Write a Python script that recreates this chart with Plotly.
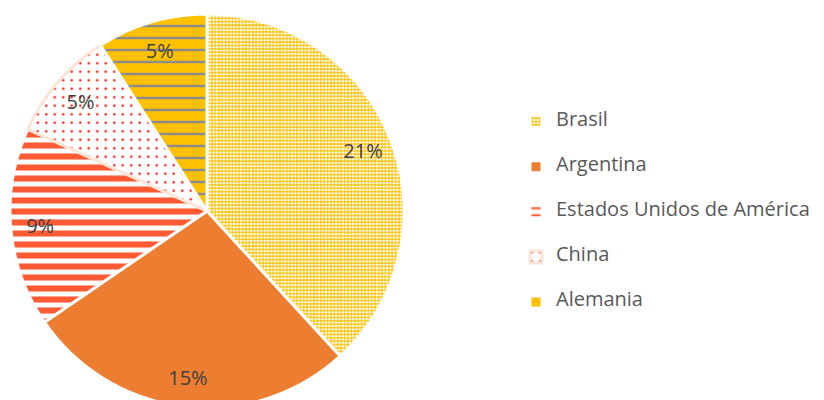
import plotly.graph_objects as go

paises = ["Brasil", "Argentina", "Estados Unidos de América", "China", "Alemania"]
porcentajes = [21, 15, 9, 5, 5]
etiquetas = ["21%", "15%", "9%", "5%", "5%"]

colores_fondo = ["#FFC000", "#ED7D31", "white", "white", "#FFC000"]
colores_patron = ["white", "#ED7D31", "#FF5A33", "#FF0000", "#8C8C8C"]
formas = [".", "", "-", ".", "-"]
tamanos = [3.4, 8, 11, 8.5, 12]
solidez = [0.5, 0.3, 0.55, 0.06, 0.2]
bordes = ["white", "white", "white", "#FBE5D6", "white"]

leyenda = ["<br><span style='font-size:20px'>%s</span><br>" % p for p in paises]

dominio = dict(x=[0, 398 / 824], y=[0, 1])

# pie with fills and legend
fig = go.Figure(go.Pie(
    labels=leyenda,
    values=porcentajes,
    textinfo="none",
    sort=False,
    direction="clockwise",
    rotation=0,
    marker=dict(
        colors=colores_fondo,
        line=dict(color=bordes, width=3),
        pattern=dict(shape=formas, fgcolor=colores_patron, bgcolor=colores_fondo,
                     size=tamanos, solidity=solidez, fillmode="replace"),
    ),
    domain=dominio,
    hoverinfo="skip",
))

# transparent ring carrying the percentage labels near the outer edge
fig.add_trace(go.Pie(
    labels=leyenda,
    values=porcentajes,
    text=etiquetas,
    texttemplate="%{text}",
    textposition="inside",
    insidetextorientation="horizontal",
    textfont=dict(size=20, color="#404040", family="Open Sans"),
    hole=0.7,
    sort=False,
    direction="clockwise",
    rotation=0,
    marker=dict(colors=["rgba(0,0,0,0)"] * len(paises), line=dict(width=0)),
    domain=dominio,
    showlegend=False,
    hoverinfo="skip",
))

fig.update_layout(
    width=824, height=400,
    margin=dict(l=0, r=0, t=6, b=0),
    paper_bgcolor="white",
    showlegend=True,
    legend=dict(x=508 / 824, xanchor="left", y=0.4975, yanchor="middle",
                font=dict(size=10.8, color="#595959", family="Open Sans"),
                bgcolor="rgba(0,0,0,0)"),
)

fig.write_html("out.html")
